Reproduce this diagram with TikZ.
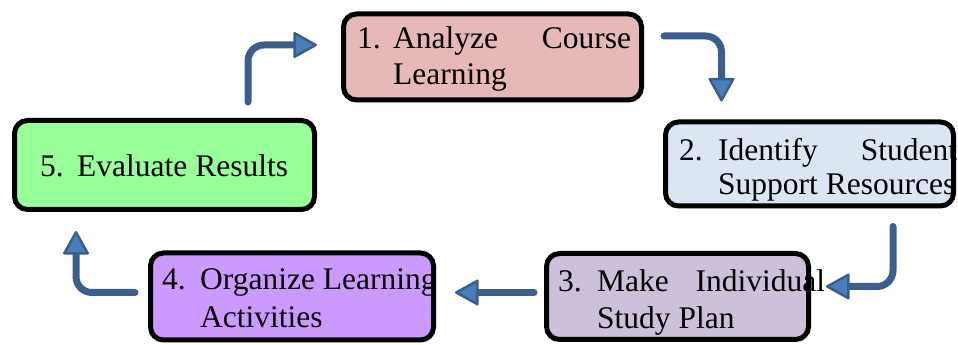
\documentclass[tikz,border=0pt]{standalone}
\usepackage{fontspec}
\setmainfont{Liberation Serif}
\usetikzlibrary{arrows.meta,calc}
\definecolor{arrline}{HTML}{3B5E8C}
\definecolor{arrfill}{HTML}{4A7EBB}
\definecolor{c1}{HTML}{E6B9B8}
\definecolor{c2}{HTML}{DCE6F2}
\definecolor{c3}{HTML}{CCC0DA}
\definecolor{c4}{HTML}{CC99FF}
\definecolor{c5}{HTML}{99FF99}
\begin{document}
\begin{tikzpicture}[x=1pt,y=1pt,
  stepbox/.style={draw=black,line width=5pt,rounded corners=13pt,inner sep=0pt},
  txt/.style={anchor=base west,inner sep=0pt,font=\fontsize{31.5}{36}\selectfont},
  flow/.style={draw=arrline,line width=7pt,line cap=round,rounded corners=16pt,
    -{Triangle[length=25pt,width=27pt,line width=2.5pt,fill=arrfill,round]}}
]
\useasboundingbox (0,0) rectangle (958,345);
% boxes
\node[stepbox,fill=c1,minimum width=298pt,minimum height=86pt] (b1) at (492.5,288) {};
\node[stepbox,fill=c2,minimum width=288pt,minimum height=84pt] (b2) at (809.5,181) {};
\node[stepbox,fill=c3,minimum width=262pt,minimum height=86pt] (b3) at (677.5,48.5) {};
\node[stepbox,fill=c4,minimum width=283pt,minimum height=87pt] (b4) at (292,48.5) {};
\node[stepbox,fill=c5,minimum width=300pt,minimum height=89pt] (b5) at (164.5,180) {};
% texts
\node[txt] (t1n) at (357,296) {1.};
\node[txt] (t1a) at (393,296) {\hbox to 238pt{Analyze\hfill Course}};
\node[txt] (t1b) at (393,260) {Learning};
\node[txt] (t2n) at (679,184) {2.};
\node[txt] (t2a) at (718,184) {\hbox to 239pt{Identify\hfill Student}};
\node[txt] (t2b) at (718,150) {Support Resources};
\node[txt] (t3n) at (558,53) {3.};
\node[txt] (t3a) at (597,53) {\hbox to 228pt{Make\hfill Individual}};
\node[txt] (t3b) at (597,16) {Study Plan};
\begin{scope}
\clip (b4.south west) rectangle ([xshift=-1pt]b4.north east);
\node[txt] (t4n) at (162,55) {4.};
\node[txt] (t4a) at (200,55) {Organize Learning};
\end{scope}
\node[txt] (t4b) at (200,17) {Activities};
\node[txt] (t5n) at (40,168) {5.};
\node[txt] (t5a) at (77,168) {Evaluate Results};
% connector end points
\coordinate (s51) at ([xshift=83.5pt,yshift=16pt]b5.north);
\coordinate (e51) at ([xshift=-24pt,yshift=12pt]b1.west);
\coordinate (s12) at ([xshift=20pt,yshift=21pt]b1.east);
\coordinate (e12) at ([xshift=-88pt,yshift=18pt]b2.north);
\coordinate (s23) at ([xshift=83.5pt,yshift=-18pt]b2.south);
\coordinate (e23) at ([xshift=15pt,yshift=10pt]b3.east);
\coordinate (s34) at ([xshift=-10pt,yshift=4pt]b3.west);
\coordinate (e34) at ([xshift=19pt,yshift=4pt]b4.east);
\coordinate (s45) at ([xshift=-13pt,yshift=4pt]b4.west);
\coordinate (e45) at ([xshift=-88.5pt,yshift=-19pt]b5.south);
% connectors
\draw[flow] (s51) |- (e51);
\draw[flow] (s12) -| (e12);
\draw[flow] (s23) |- (e23);
\draw[flow] (s34) -- (e34);
\draw[flow] (s45) -| (e45);
\end{tikzpicture}
\end{document}
